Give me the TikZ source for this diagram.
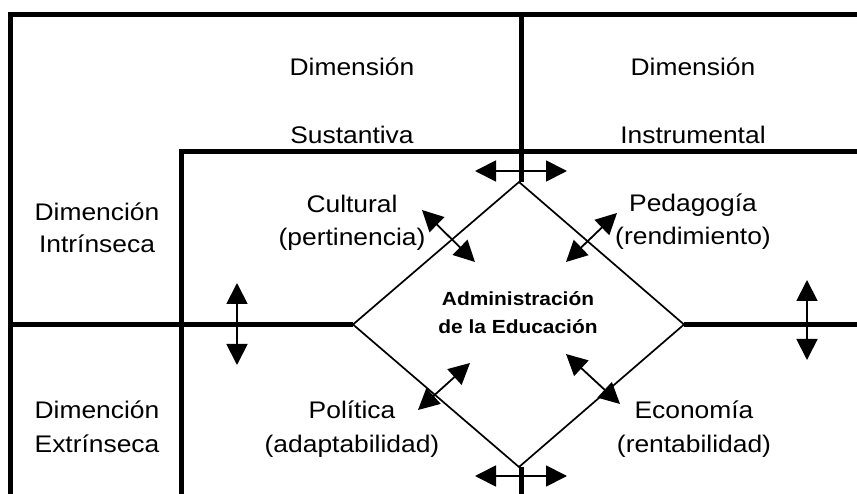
\documentclass[tikz,border=0pt]{standalone}
\usepackage{fontspec}
\setmainfont{Liberation Sans}[FakeStretch=1.1]
\usetikzlibrary{arrows.meta}
\begin{document}
\begin{tikzpicture}[x=1pt,y=-1pt,
  frame/.style={line width=5pt, line join=miter, line cap=butt},
  edge/.style={line width=1.7pt, line join=miter},
  dblarrow/.style={line width=1.8pt, {Triangle[length=21pt,width=21pt]}-{Triangle[length=21pt,width=21pt]}},
  lbl/.style={font=\fontsize{24}{33}\selectfont, inner sep=0pt, anchor=base},
  core/.style={font=\bfseries\fontsize{19}{28}\selectfont, inner sep=0pt, anchor=base}]
\useasboundingbox (0,0) rectangle (857,494);

% diamond vertices
\coordinate (dT) at (519,182);
\coordinate (dR) at (684,324.5);
\coordinate (dB) at (519,467);
\coordinate (dL) at (353,324.5);

% frame lines
\draw[frame] (10,494) -- (10,14.5) -- (857,14.5);
\draw[frame] (181,494) -- (181,152) -- (857,152);
\draw[frame] (521,14.5) -- (521,182);
\draw[frame] (521,467) -- (521,494);
\draw[frame] (10,324.5) -- (dL);
\draw[frame] (dR) -- (857,324.5);

% diamond
\draw[edge] (dT) -- (dR) -- (dB) -- (dL) -- cycle;

% arrow end points
\coordinate (aT1) at (475,171);  \coordinate (aT2) at (567,171);
\coordinate (aB1) at (475,476);  \coordinate (aB2) at (567,476);
\coordinate (aL1) at (237,283);  \coordinate (aL2) at (237,365);
\coordinate (aR1) at (807,280);  \coordinate (aR2) at (807,360);
\coordinate (aC1) at (422,210);  \coordinate (aC2) at (475,262);
\coordinate (aP1) at (617,213);  \coordinate (aP2) at (566,262);
\coordinate (aO1) at (470,363);  \coordinate (aO2) at (418,410);
\coordinate (aE1) at (566,354);  \coordinate (aE2) at (620,404);

\draw[dblarrow] (aT1) -- (aT2);
\draw[dblarrow] (aB1) -- (aB2);
\draw[dblarrow] (aL1) -- (aL2);
\draw[dblarrow] (aR1) -- (aR2);
\draw[dblarrow] (aC1) -- (aC2);
\draw[dblarrow] (aP1) -- (aP2);
\draw[dblarrow] (aO1) -- (aO2);
\draw[dblarrow] (aE1) -- (aE2);

% labels
\node[lbl] (dimS1) at (352,76) {Dimensión};
\node[lbl] (dimS2) at (352,144) {Sustantiva};
\node[lbl] (dimI1) at (693,76) {Dimensión};
\node[lbl] (dimI2) at (693,144) {Instrumental};
\node[lbl] (intr1) at (97,221) {Dimención};
\node[lbl] (intr2) at (97,253) {Intrínseca};
\node[lbl] (extr1) at (97,418) {Dimención};
\node[lbl] (extr2) at (97,452) {Extrínseca};
\node[lbl] (cult1) at (352,213) {Cultural};
\node[lbl] (cult2) at (352,246) {(pertinencia)};
\node[lbl] (ped1) at (693,212) {Pedagogía};
\node[lbl] (ped2) at (693,245) {(rendimiento)};
\node[lbl] (pol1) at (352,418) {Política};
\node[lbl] (pol2) at (352,452) {(adaptabilidad)};
\node[lbl] (eco1) at (694,418) {Economía};
\node[lbl] (eco2) at (694,452) {(rentabilidad)};
\node[core] (adm1) at (518,306) {Administración};
\node[core] (adm2) at (518,334) {de la Educación};
\end{tikzpicture}
\end{document}
